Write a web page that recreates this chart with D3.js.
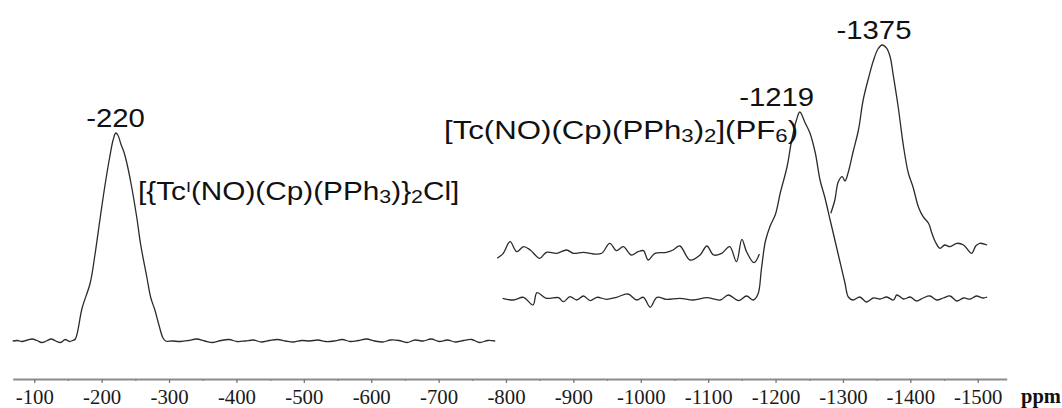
<!DOCTYPE html>
<html>
<head>
<meta charset="utf-8">
<script src="https://cdn.jsdelivr.net/npm/d3@7"></script>
<style>
  body { margin: 0; background: #fff; }
  svg { display: block; }
</style>
</head>
<body>
<div id="chart"></div>
<script>
// axis ticks (ppm)
const majorTicks = [-100, -200, -300, -400, -500, -600, -700, -800, -900, -1000, -1100, -1200, -1300, -1400, -1500];
const minorTicks = [-150, -250, -350, -450, -550, -650, -750, -850, -950, -1050, -1150, -1250, -1350, -1450];

// [ppm, intensity]
const spectrumA = [
  [-68, 0], [-75, 0.5], [-82, -0.5], [-90, 1], [-97, 2], [-104, 0.5], [-111, -1.5], [-118, 0],
  [-125, 2], [-132, 0], [-139, -1.5], [-146, 1.5], [-152, -0.5], [-157, 0.5], [-161, 2],
  [-171, 33], [-183, 58], [-190, 86], [-198, 124], [-205, 156], [-212, 184],
  [-217, 201], [-221, 208], [-224, 206], [-229, 196], [-233, 189], [-237, 179], [-244, 156],
  [-252, 124], [-258, 96], [-267, 64], [-273, 43], [-279, 31], [-285, 16], [-291, 3], [-295, 0],
  [-305, 0], [-317, -0.5], [-329, 0.5], [-341, 2], [-353, 0], [-365, -1.5], [-377, 0.5],
  [-389, 1.5], [-401, -0.5], [-413, 0], [-425, 1], [-437, -1], [-449, 0.5], [-461, 1.5],
  [-473, 0], [-485, -1], [-497, 0.5], [-509, 0], [-521, 1], [-533, -0.5], [-545, 0],
  [-557, 1.5], [-569, -0.5], [-581, 0.5], [-593, 2], [-605, 0], [-617, -1], [-629, 1],
  [-641, 0.5], [-653, -1.5], [-665, 1], [-677, 0], [-689, 2], [-701, -0.5], [-713, 1],
  [-725, -1], [-737, 0.5], [-749, 1.5], [-761, -1.5], [-773, 0.5], [-784, 0]
];

const spectrumB = [
  [-795, 42.7], [-811, 41], [-826, 43.7], [-840, 36], [-846, 48.3], [-860, 42.7], [-878, 43.3],
  [-885, 39.3], [-895, 44.3], [-905, 41], [-915, 45], [-925, 40.3], [-935, 43.7], [-949, 41.7],
  [-964, 43.7], [-981, 47], [-994, 41], [-1004, 43.7], [-1014, 33.7], [-1024, 43.7], [-1038, 41.7],
  [-1058, 42.7], [-1078, 41], [-1098, 43.3], [-1118, 41], [-1130, 46], [-1145, 40.3], [-1157, 45],
  [-1167, 41], [-1174, 47], [-1179, 72], [-1185, 100], [-1192, 115], [-1200, 127], [-1207, 148],
  [-1217, 174], [-1224, 201], [-1231, 221], [-1236, 229], [-1244, 218], [-1251, 208], [-1259, 188],
  [-1266, 161], [-1273, 144], [-1281, 121], [-1288, 101], [-1296, 78], [-1303, 58], [-1308, 44],
  [-1315, 41], [-1325, 44], [-1335, 39], [-1345, 43], [-1355, 42], [-1365, 44], [-1375, 41],
  [-1380, 46], [-1390, 42], [-1400, 44], [-1409, 40], [-1419, 43], [-1429, 45], [-1439, 41],
  [-1449, 43], [-1459, 45], [-1469, 40], [-1479, 43], [-1489, 42], [-1498, 45], [-1508, 43],
  [-1514, 44]
];

// upper trace is drawn in two pieces (cut where it meets the -1219 peak)
const spectrumCNoise = [
  [-787, 82.7], [-796, 87.7], [-806, 99.3], [-816, 89.3], [-826, 94.3], [-836, 91], [-850, 82.7],
  [-860, 88.7], [-875, 87.7], [-890, 91], [-900, 87.7], [-915, 88.7], [-930, 87], [-942, 87.7],
  [-954, 97.7], [-964, 90.3], [-974, 94.3], [-986, 86], [-996, 89.3], [-1004, 90.3], [-1011, 81],
  [-1021, 87.7], [-1038, 88.7], [-1048, 91], [-1058, 95], [-1073, 81], [-1088, 86], [-1098, 95],
  [-1108, 86], [-1120, 87.7], [-1132, 94.3], [-1142, 79.3], [-1150, 101.7], [-1157, 89.3],
  [-1168, 78.3], [-1176, 87]
];

const spectrumCPeak = [
  [-1282, 127.7], [-1288, 141], [-1293, 159], [-1299, 164.3], [-1303, 160], [-1308, 169],
  [-1315, 189], [-1323, 211], [-1330, 241], [-1338, 263], [-1345, 280], [-1352, 292],
  [-1358, 296], [-1365, 292.7], [-1370, 284.3], [-1375, 264.3], [-1382, 234], [-1390, 194],
  [-1397, 168], [-1404, 154], [-1412, 134], [-1419, 124.3], [-1427, 117.7], [-1432, 107.7],
  [-1437, 99.3], [-1444, 92.7], [-1451, 96], [-1459, 94.3], [-1469, 97.7], [-1479, 96],
  [-1491, 87.7], [-1497, 95], [-1503, 97.7], [-1514, 96]
];

const peakLabels = ["-220", "-1219", "-1375"];

const width = 1062;
const height = 408;

const svg = d3.select("#chart")
  .append("svg")
  .attr("width", width)
  .attr("height", height);

const xScale = d3.scaleLinear()
  .domain([-68, -1543])
  .range([12.7, 1006.7]);

// arbitrary intensity units
const yScale = d3.scaleLinear()
  .domain([0, 300])
  .range([341, 41]);

const axisY = 379;
const serif = "'Liberation Serif', 'Times New Roman', serif";

// minor ticks
const minorAxis = svg.append("g")
  .attr("transform", `translate(0, ${axisY})`)
  .call(d3.axisBottom(xScale).tickValues(minorTicks).tickSize(2).tickSizeOuter(0).tickFormat(""));
minorAxis.select(".domain").remove();
minorAxis.selectAll("line").attr("stroke", "#777").attr("stroke-width", 1.3);

// major ticks + labels
const majorAxis = svg.append("g")
  .attr("transform", `translate(0, ${axisY})`)
  .call(d3.axisBottom(xScale)
    .tickValues(majorTicks)
    .tickSize(4)
    .tickSizeOuter(0)
    .tickPadding(7)
    .tickFormat(d => String(d)))
  .attr("font-family", serif)
  .attr("font-size", 20);

majorAxis.select(".domain").attr("stroke", "#8c8c8c").attr("stroke-width", 2);
majorAxis.selectAll("line").attr("stroke", "#777").attr("stroke-width", 1.3);
majorAxis.selectAll("text")
  .style("font-family", serif)
  .style("font-size", "20px")
  .attr("transform", "scale(1.04, 1)")
  .attr("fill", "#1a1a1a");

svg.append("text")
  .attr("x", 1021)
  .attr("y", 403)
  .style("font-family", serif)
  .style("font-size", "20.5px")
  .style("font-weight", "bold")
  .attr("fill", "#111")
  .text("ppm");

// spectra
const lineGenerator = d3.line()
  .x(d => xScale(d[0]))
  .y(d => yScale(d[1]))
  .curve(d3.curveCatmullRom.alpha(0.5));

[spectrumA, spectrumB, spectrumCNoise, spectrumCPeak].forEach(series => {
  svg.append("path")
    .datum(series)
    .attr("fill", "none")
    .attr("stroke", "#2b2b2b")
    .attr("stroke-width", 1.3)
    .attr("stroke-linejoin", "round")
    .attr("d", lineGenerator);
});

// peak labels (sans, slightly stretched like the original)
const labelFont = "'Liberation Sans', Arial, sans-serif";
const peakSpots = [[-220.5, 214], [-1201.6, 235], [-1346, 302]];

peakLabels.forEach((txt, i) => {
  svg.append("text")
    .attr("transform", `translate(${xScale(peakSpots[i][0])}, ${yScale(peakSpots[i][1])}) scale(1.15, 1)`)
    .attr("text-anchor", "middle")
    .style("font-family", labelFont)
    .style("font-size", "25.5px")
    .attr("fill", "#111")
    .text(txt);
});

// compound names
const nameA = svg.append("text")
  .attr("transform", `translate(${xScale(-254)}, ${yScale(141)}) scale(1.19, 1)`)
  .style("font-family", labelFont)
  .style("font-size", "25px")
  .attr("fill", "#111");
nameA.append("tspan").text("[{Tc");
nameA.append("tspan").attr("dy", -8).style("font-size", "15px").text("I");
nameA.append("tspan").attr("dy", 8).text("(NO)(Cp)(PPh");
nameA.append("tspan").attr("dy", 3).style("font-size", "18px").text("3");
nameA.append("tspan").attr("dy", -3).text(")}");
nameA.append("tspan").attr("dy", 3).style("font-size", "18px").text("2");
nameA.append("tspan").attr("dy", -3).text("Cl]");

const nameB = svg.append("text")
  .attr("transform", `translate(${xScale(-708)}, ${yScale(202)}) scale(1.2, 1)`)
  .style("font-family", labelFont)
  .style("font-size", "26px")
  .attr("fill", "#111");
nameB.append("tspan").text("[Tc(NO)(Cp)(PPh");
nameB.append("tspan").attr("dy", 3).style("font-size", "18.5px").text("3");
nameB.append("tspan").attr("dy", -3).text(")");
nameB.append("tspan").attr("dy", 3).style("font-size", "18.5px").text("2");
nameB.append("tspan").attr("dy", -3).text("](PF");
nameB.append("tspan").attr("dy", 3).style("font-size", "18.5px").text("6");
nameB.append("tspan").attr("dy", -3).text(")");
</script>
</body>
</html>
